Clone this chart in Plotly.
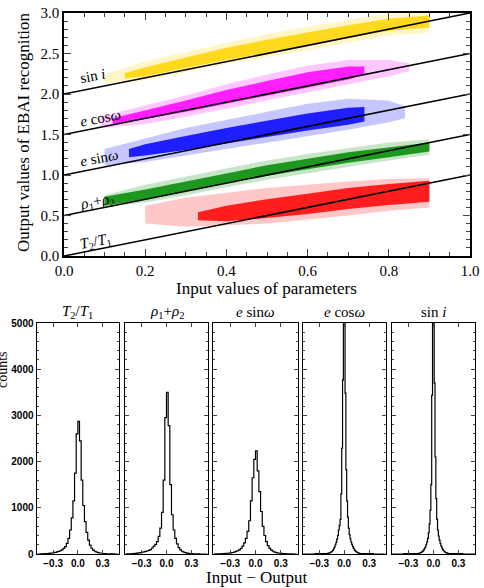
import plotly.graph_objects as go

W, H = 484, 588

# ---------------- top panel data (bands) ----------------
line_x = [0.0, 1.0]
line_offsets = [0.0, 0.5, 1.0, 1.5, 2.0]

colors = {"sini": "#FFD400", "ecos": "#FF00FF", "esin": "#0000FF", "rho": "#008A00", "t": "#FF0000"}

sini_halo_x = [0.10, 0.2, 0.3, 0.4, 0.5, 0.6, 0.7, 0.8, 0.9]
sini_halo_lo = [2.14, 2.17, 2.27, 2.37, 2.45, 2.54, 2.63, 2.72, 2.76]
sini_halo_hi = [2.24, 2.40, 2.52, 2.63, 2.74, 2.83, 2.92, 2.99, 3.0]
sini_core_x = [0.15, 0.2, 0.3, 0.4, 0.5, 0.6, 0.7, 0.8, 0.9]
sini_core_lo = [2.19, 2.22, 2.32, 2.42, 2.51, 2.60, 2.69, 2.78, 2.82]
sini_core_hi = [2.26, 2.33, 2.45, 2.57, 2.67, 2.76, 2.85, 2.93, 2.97]

ecos_halo_x = [0.09, 0.2, 0.3, 0.4, 0.5, 0.6, 0.7, 0.8, 0.85]
ecos_halo_lo = [1.58, 1.63, 1.72, 1.82, 1.92, 2.02, 2.12, 2.22, 2.28]
ecos_halo_hi = [1.72, 1.86, 1.98, 2.12, 2.24, 2.35, 2.42, 2.42, 2.38]
ecos_core_x = [0.12, 0.2, 0.3, 0.4, 0.5, 0.6, 0.7, 0.74]
ecos_core_lo = [1.63, 1.69, 1.78, 1.88, 1.98, 2.08, 2.18, 2.24]
ecos_core_hi = [1.70, 1.80, 1.92, 2.05, 2.16, 2.27, 2.34, 2.34]

esin_halo_x = [0.1, 0.2, 0.3, 0.4, 0.5, 0.6, 0.7, 0.8, 0.84]
esin_halo_lo = [1.12, 1.16, 1.24, 1.32, 1.40, 1.48, 1.56, 1.65, 1.70]
esin_halo_hi = [1.32, 1.45, 1.58, 1.68, 1.78, 1.88, 1.94, 1.92, 1.85]
esin_core_x = [0.16, 0.2, 0.3, 0.4, 0.5, 0.6, 0.7, 0.74]
esin_core_lo = [1.22, 1.24, 1.31, 1.39, 1.47, 1.55, 1.62, 1.66]
esin_core_hi = [1.32, 1.38, 1.48, 1.58, 1.67, 1.76, 1.83, 1.84]

rho_halo_x = [0.1, 0.2, 0.3, 0.4, 0.5, 0.6, 0.7, 0.8, 0.9]
rho_halo_lo = [0.61, 0.66, 0.75, 0.85, 0.94, 1.02, 1.10, 1.18, 1.25]
rho_halo_hi = [0.75, 0.88, 0.98, 1.08, 1.18, 1.26, 1.33, 1.40, 1.44]
rho_core_x = [0.1, 0.2, 0.3, 0.4, 0.5, 0.6, 0.7, 0.8, 0.9]
rho_core_lo = [0.62, 0.70, 0.80, 0.90, 0.99, 1.07, 1.15, 1.22, 1.29]
rho_core_hi = [0.73, 0.82, 0.92, 1.02, 1.12, 1.20, 1.28, 1.34, 1.40]

t_halo_x = [0.2, 0.3, 0.4, 0.5, 0.6, 0.7, 0.8, 0.9]
t_halo_lo = [0.40, 0.36, 0.38, 0.40, 0.45, 0.50, 0.56, 0.60]
t_halo_hi = [0.62, 0.72, 0.78, 0.84, 0.88, 0.92, 0.95, 0.96]
t_core_x = [0.33, 0.4, 0.5, 0.6, 0.7, 0.8, 0.9]
t_core_lo = [0.44, 0.43, 0.47, 0.52, 0.58, 0.63, 0.67]
t_core_hi = [0.54, 0.62, 0.70, 0.77, 0.84, 0.89, 0.93]

band_labels = ["sin <i>i</i>", "<i>e</i> cos<i>ω</i>", "<i>e</i> sin<i>ω</i>",
               "<i>ρ</i><sub>1</sub>+<i>ρ</i><sub>2</sub>", "<i>T</i><sub>2</sub>/<i>T</i><sub>1</sub>"]
label_x = [0.03, 0.03, 0.03, 0.03, 0.03]
label_y = [2.22, 1.70, 1.21, 0.67, 0.17]

# ---------------- histogram data ----------------
hist_titles = ["<i>T</i><sub>2</sub>/<i>T</i><sub>1</sub>", "<i>ρ</i><sub>1</sub>+<i>ρ</i><sub>2</sub>",
               "<i>e</i> sin<i>ω</i>", "<i>e</i> cos<i>ω</i>", "sin <i>i</i>"]

wide_bins = [-0.49, -0.47, -0.45, -0.43, -0.41, -0.39, -0.37, -0.35, -0.33, -0.31,
             -0.29, -0.27, -0.25, -0.23, -0.21, -0.19, -0.17, -0.15, -0.13, -0.11,
             -0.09, -0.07, -0.05, -0.03, -0.01, 0.01, 0.03, 0.05, 0.07, 0.09,
             0.11, 0.13, 0.15, 0.17, 0.19, 0.21, 0.23, 0.25, 0.27, 0.29,
             0.31, 0.33, 0.35, 0.37, 0.39, 0.41, 0.43, 0.45, 0.47, 0.49]
narrow_bins = [-0.5, -0.205, -0.195, -0.185, -0.175, -0.165, -0.155, -0.145, -0.135, -0.125,
               -0.115, -0.105, -0.095, -0.085, -0.075, -0.065, -0.055, -0.045, -0.035, -0.025,
               -0.015, -0.005, 0.005, 0.015, 0.025, 0.035, 0.045, 0.055, 0.065, 0.075,
               0.085, 0.095, 0.105, 0.115, 0.125, 0.135, 0.145, 0.155, 0.165, 0.175,
               0.185, 0.195, 0.205, 0.5]

t_counts = [0, 0, 2, 4, 6, 8, 10, 14, 18, 22,
            28, 35, 45, 55, 70, 90, 120, 160, 230, 340,
            520, 780, 1150, 1750, 2600, 2870, 2450, 1600, 1050, 700,
            470, 300, 190, 125, 85, 60, 42, 30, 22, 16,
            11, 8, 5, 4, 3, 2, 1, 0, 0, 0]
rho_counts = [0, 1, 2, 4, 6, 9, 13, 18, 24, 30,
              38, 45, 55, 65, 80, 95, 130, 170, 210, 270,
              380, 560, 900, 1600, 2950, 3500, 2780, 1500, 850, 520,
              340, 220, 140, 90, 60, 40, 28, 20, 14, 10,
              7, 5, 3, 2, 1, 0, 0, 0, 0, 0]
esin_counts = [0, 1, 2, 3, 5, 7, 9, 12, 16, 20,
               26, 33, 42, 55, 70, 90, 120, 170, 240, 340,
               490, 720, 1150, 1650, 2050, 2230, 1800, 1350, 920, 600,
               400, 270, 180, 120, 85, 60, 42, 30, 22, 16,
               12, 9, 6, 4, 3, 2, 1, 0, 0, 0]
ecos_counts = [0, 8, 12, 17, 24, 32, 45, 60, 80, 110,
               150, 200, 250, 320, 400, 520, 620, 750, 1300, 2290,
               3770, 5800, 5900, 3480, 1820, 1150, 800, 560, 420, 330,
               260, 210, 160, 120, 90, 68, 50, 38, 28, 20,
               15, 11, 8, 0]
sini_counts = [0, 6, 8, 11, 15, 20, 27, 36, 48, 64,
               85, 115, 150, 200, 260, 340, 460, 650, 950, 1500,
               3440, 5900, 5800, 3700, 2100, 1200, 750, 520, 390, 300,
               230, 175, 130, 95, 70, 52, 38, 28, 20, 15,
               11, 8, 6, 0]

hist_x = [wide_bins, wide_bins, wide_bins, narrow_bins, narrow_bins]
hist_y = [t_counts, rho_counts, esin_counts, ecos_counts, sini_counts]

# ---------------- layout geometry ----------------
def px(v):
    return v / W

def py(v):
    return 1 - v / H

top_dom_x = [px(64), px(470)]
top_dom_y = [py(256), py(13)]
panel_px = [(36.7, 119), (125, 208), (213.3, 297.7), (302.7, 385.7), (391.7, 475)]
hist_dom_y = [py(554), py(323)]

serif = "Liberation Serif"
sans = "Liberation Sans"

fig = go.Figure()

bands = [
    ("sini", sini_halo_x, sini_halo_lo, sini_halo_hi, sini_core_x, sini_core_lo, sini_core_hi),
    ("ecos", ecos_halo_x, ecos_halo_lo, ecos_halo_hi, ecos_core_x, ecos_core_lo, ecos_core_hi),
    ("esin", esin_halo_x, esin_halo_lo, esin_halo_hi, esin_core_x, esin_core_lo, esin_core_hi),
    ("rho", rho_halo_x, rho_halo_lo, rho_halo_hi, rho_core_x, rho_core_lo, rho_core_hi),
    ("t", t_halo_x, t_halo_lo, t_halo_hi, t_core_x, t_core_lo, t_core_hi),
]
for key, hx, hlo, hhi, cx, clo, chi in bands:
    c = colors[key]
    fig.add_trace(go.Scatter(x=hx + hx[::-1], y=hlo + hhi[::-1], fill="toself", fillcolor=c,
                             opacity=0.22, line=dict(width=0), mode="lines", showlegend=False,
                             xaxis="x", yaxis="y", hoverinfo="skip"))
    fig.add_trace(go.Scatter(x=cx + cx[::-1], y=clo + chi[::-1], fill="toself", fillcolor=c,
                             opacity=0.85, line=dict(width=0), mode="lines", showlegend=False,
                             xaxis="x", yaxis="y", hoverinfo="skip"))

for off in line_offsets:
    fig.add_trace(go.Scatter(x=line_x, y=[v + off for v in line_x], mode="lines",
                             line=dict(color="black", width=1.6), showlegend=False,
                             xaxis="x", yaxis="y"))

for i in range(5):
    fig.add_trace(go.Scatter(x=hist_x[i], y=hist_y[i], mode="lines", line_shape="hvh",
                             line=dict(color="black", width=1.2), showlegend=False,
                             xaxis="x%d" % (i + 2), yaxis="y%d" % (i + 2)))

layout = dict(
    width=W, height=H, margin=dict(l=0, r=0, t=0, b=0, pad=0, autoexpand=False),
    paper_bgcolor="white", plot_bgcolor="white", showlegend=False,
    xaxis=dict(domain=top_dom_x, anchor="y", range=[0, 1], dtick=0.2, tick0=0, tickformat=".1f",
               ticks="inside", ticklen=7, tickwidth=1.2, mirror="allticks", showline=True,
               linecolor="black", linewidth=1.5, showgrid=False, zeroline=False,
               minor=dict(dtick=0.05, ticks="inside", ticklen=4, tickwidth=1),
               tickfont=dict(family=serif, size=15, color="black")),
    yaxis=dict(domain=top_dom_y, anchor="x", range=[0, 3], dtick=0.5, tick0=0, tickformat=".1f",
               ticks="inside", ticklen=7, tickwidth=1.2, mirror="allticks", showline=True,
               linecolor="black", linewidth=1.5, showgrid=False, zeroline=False,
               minor=dict(dtick=0.1, ticks="inside", ticklen=4, tickwidth=1),
               tickfont=dict(family=serif, size=15, color="black")),
)
for i in range(5):
    n = i + 2
    x0, x1 = panel_px[i]
    layout["xaxis%d" % n] = dict(
        domain=[px(x0), px(x1)], anchor="y%d" % n, range=[-0.5, 0.5],
        tickvals=[-0.3, 0.0, 0.3], tickformat=".1f", ticks="inside", ticklen=4, tickwidth=1,
        mirror="allticks", showline=True, linecolor="black", linewidth=1.3,
        showgrid=False, zeroline=False,
        tickfont=dict(family=sans, size=10, color="black", weight="bold"))
    layout["yaxis%d" % n] = dict(
        domain=hist_dom_y, anchor="x%d" % n, range=[0, 5000], dtick=1000, tick0=0,
        ticks="inside", ticklen=4, tickwidth=1, mirror="allticks", showline=True,
        linecolor="black", linewidth=1.3, showgrid=False, zeroline=False,
        showticklabels=(i == 0),
        minor=dict(dtick=200, ticks="inside", ticklen=2, tickwidth=0.8),
        tickfont=dict(family=sans, size=10, color="black", weight="bold"))
fig.update_layout(**layout)

ann = []
for txt, lx, ly in zip(band_labels, label_x, label_y):
    ann.append(dict(text=txt, x=lx, y=ly, xref="x", yref="y", xanchor="left", yanchor="middle",
                    showarrow=False, textangle=-11, font=dict(family=serif, size=15, color="black")))

def paper_text(txt, x, y, size, angle=0):
    return dict(text=txt, x=px(x), y=py(y), xref="paper", yref="paper", xanchor="center",
                yanchor="middle", showarrow=False, textangle=angle,
                font=dict(family=serif, size=size, color="black"))

ann.append(paper_text("Input values of parameters", 266, 289, 17))
ann.append(paper_text("Output values of EBAI recognition", 24, 133, 17, -90))
for i in range(5):
    x0, x1 = panel_px[i]
    ann.append(paper_text(hist_titles[i], (x0 + x1) / 2, 312, 15))
ann.append(paper_text("Input − Output", 256, 577, 17))
ann.append(paper_text("counts", 2, 370, 14, -90))
fig.update_layout(annotations=ann)

fig.write_html("out.html")
